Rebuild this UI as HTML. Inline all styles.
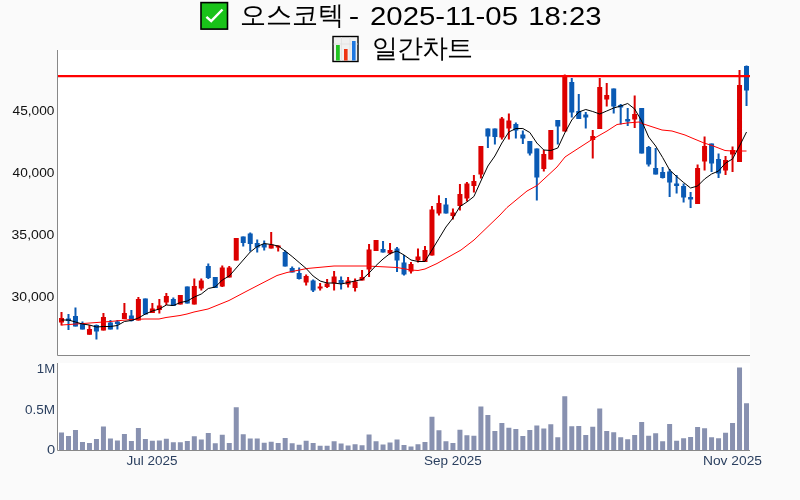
<!DOCTYPE html>
<html><head><meta charset="utf-8">
<style>
html,body{margin:0;padding:0;background:#fafafa;}
body{width:800px;height:500px;overflow:hidden;position:relative;font-family:"Liberation Sans",sans-serif;}
svg{position:absolute;left:0;top:0;will-change:transform;}
.t{position:absolute;white-space:nowrap;color:#000;will-change:transform;}
</style></head><body>
<svg width="800" height="500" viewBox="0 0 800 500" font-family="Liberation Sans, sans-serif">
<rect x="0" y="0" width="800" height="500" fill="#fafafa"/>
<rect x="57" y="50" width="693" height="305" fill="#fff"/>
<rect x="57" y="363" width="693" height="87" fill="#fff"/>
<g>
<path d="M61.5 312V325.5M89.46 325V334.8M103.44 313V330.5M124.41 303V319M138.39 297V320.5M152.37 303V313M159.36 299V313.5M166.35 293V305M180.33 295V304.5M194.31 278.5V304.5M201.3 278.5V290.5M222.27 265.5V287M229.26 266V277.5M236.25 238V260.5M271.2 232V248.5M278.19 245.5V251.5M306.15 274.5V285.5M320.13 283V290.5M327.12 279V288M334.11 271V290.5M348.09 277V287.5M355.08 278.5V291.5M362.07 270V280.5M369.06 244V277M376.05 240V251M390.03 243V254.5M411 262V273.5M417.99 248.5V262.5M424.98 246V262M431.97 206V255.5M438.96 195.2V215.5M452.94 208.5V219.5M459.93 184V210.5M466.92 182V201.5M473.91 175V192.5M480.9 146V178.5M501.87 117V139.5M508.86 113.5V139.5M543.81 150V171.5M550.8 130V159.5M564.78 74.5V131.5M592.74 130V158.5M599.73 78V129M606.72 83V106.5M634.68 95.5V128M697.59 164.5V204M704.58 136.5V170.5M725.55 156V175M732.54 146.5V172M739.53 70V162" stroke="#dc0000" stroke-width="2" fill="none"/>
<path d="M59 318h5v4.5h-5zM86.96 329h5v5.8h-5zM100.94 317h5v13.5h-5zM121.91 313h5v6h-5zM135.89 299h5v21.5h-5zM149.87 308.5h5v4.5h-5zM156.86 305.5h5v4.5h-5zM163.85 296h5v6.5h-5zM177.83 295h5v9.5h-5zM191.81 286h5v18.5h-5zM198.8 280.5h5v8h-5zM219.77 267.5h5v19h-5zM226.76 267.5h5v10h-5zM233.75 238h5v22.5h-5zM268.7 244.5h5v4h-5zM275.69 245.5h5v2h-5zM303.65 276h5v6.5h-5zM317.63 286.5h5v2h-5zM324.62 283.5h5v3.5h-5zM331.61 276.5h5v7h-5zM345.59 280.5h5v4h-5zM352.58 281.5h5v6.5h-5zM359.57 277h5v3.5h-5zM366.56 249.5h5v20h-5zM373.55 240h5v11h-5zM387.53 250h5v3.5h-5zM408.5 264h5v7.5h-5zM415.49 256.5h5v4h-5zM422.48 250h5v12h-5zM429.47 209.5h5v46h-5zM436.46 203h5v10.5h-5zM450.44 212.5h5v3.5h-5zM457.43 194h5v12h-5zM464.42 183.5h5v15h-5zM471.41 181h5v5h-5zM478.4 146h5v28.5h-5zM499.37 118.5h5v19h-5zM506.36 120.5h5v8h-5zM541.31 154h5v15h-5zM548.3 130h5v29.5h-5zM562.28 75h5v56.5h-5zM590.24 136h5v4h-5zM597.23 87h5v42h-5zM604.22 95h5v4.5h-5zM632.18 114h5v5.5h-5zM695.09 168h5v36h-5zM702.08 146h5v15.5h-5zM723.05 160h5v10.5h-5zM730.04 150h5v4.5h-5zM737.03 85h5v77h-5z" fill="#dc0000"/>
<path d="M68.49 314V330M75.48 307.5V326.5M82.47 321.5V329.5M96.45 324.5V339.5M110.43 320V329.5M117.42 320V329.5M131.4 310V321.5M145.38 298.5V314.5M173.34 297.5V306M187.32 286.5V303.5M208.29 263.5V279M215.28 277V288M243.24 236.5V246.5M250.23 232.5V251.5M257.22 239.5V252.5M264.21 240.5V250.5M285.18 250.5V266.5M292.17 266.5V272.5M299.16 267.5V279.5M313.14 279.5V292M341.1 276.5V289.5M383.04 241V252.5M397.02 247V272M404.01 255V275.5M445.95 198V213.5M487.89 128.5V148M494.88 128.5V144.5M515.85 122.5V138.5M522.84 130.5V144M529.83 141V155.5M536.82 148.5V200.5M557.79 120V144.5M571.77 78V117.5M578.76 94V119M585.75 112V128.5M613.71 88.5V113.5M620.7 104V124.5M627.69 108V126M641.67 108V153.5M648.66 146V166.5M655.65 148V174.5M662.64 167V178.5M669.63 169V197M676.62 175V193.5M683.61 183.5V202.5M690.6 192V208M711.57 143.5V172M718.56 153.5V178M746.52 65.5V106" stroke="#0a5ab4" stroke-width="2" fill="none"/>
<path d="M65.99 318.5h5v2.5h-5zM72.98 316h5v10.5h-5zM79.97 324h5v5.5h-5zM93.95 325h5v6.5h-5zM107.93 322.5h5v7h-5zM114.92 321.5h5v2.5h-5zM128.9 315.5h5v5.5h-5zM142.88 298.5h5v16h-5zM170.84 299h5v7h-5zM184.82 286.5h5v17h-5zM205.79 266h5v12h-5zM212.78 277h5v11h-5zM240.74 236.5h5v6.5h-5zM247.73 233.5h5v10.5h-5zM254.72 243h5v4.5h-5zM261.71 244h5v3.5h-5zM282.68 252h5v14.5h-5zM289.67 268h5v4.5h-5zM296.66 273h5v6h-5zM310.64 280.5h5v10h-5zM338.6 280h5v3.5h-5zM380.54 249h5v3.5h-5zM394.52 248.5h5v12h-5zM401.51 262.5h5v12h-5zM443.45 204.5h5v9h-5zM485.39 128.5h5v8h-5zM492.38 128.5h5v8.5h-5zM513.35 124h5v6.5h-5zM520.34 134.5h5v4h-5zM527.33 141h5v12.5h-5zM534.32 148.5h5v29h-5zM555.29 120h5v6.5h-5zM569.27 82h5v30.5h-5zM576.26 111h5v8h-5zM583.25 114.5h5v3h-5zM611.21 88.5h5v18h-5zM618.2 105h5v2.5h-5zM625.19 119h5v2.5h-5zM639.17 108h5v45.5h-5zM646.16 147h5v17.5h-5zM653.15 168h5v6.5h-5zM660.14 172h5v6h-5zM667.13 171.5h5v11h-5zM674.12 183.5h5v2.5h-5zM681.11 186h5v11.5h-5zM688.1 197h5v2.5h-5zM709.07 143.5h5v20h-5zM716.06 159h5v14.5h-5zM744.02 66h5v24.5h-5z" fill="#0a5ab4"/>
</g>
<path d="M61.5 325 L69 324.5 L90 323 L110 321.5 L131 319.5 L145 319 L159 319 L166 317.5 L180 315.5 L187 314 L194 312 L201 310.5 L208 309 L229 300.5 L247 291 L277 275.5 L287 272.5 L307 268.5 L334 266 L367 266 L397 267.5 L411 270 L418 270.5 L425 269 L437 263.5 L461 250 L474 240 L500 215 L507 207.5 L527 191 L537 185.5 L557 167 L565 157 L568 155 L592 139.5 L607 131 L617 124.5 L627 123 L639 122 L642 123.5 L662 130 L672 131 L685 135 L692 138 L704 143 L712 145.5 L725 150.5 L732 151 L746.5 151" stroke="#ff0000" stroke-width="1" fill="none"/>
<path d="M61.5 320 L68.49 320 L75.48 322 L82.47 324 L89.46 325 L96.45 327 L103.44 326.5 L110.43 326.5 L117.42 325.5 L124.41 321.5 L131.4 320.5 L138.39 318 L145.38 314 L152.37 311 L159.36 309 L166.35 305 L173.34 305.5 L180.33 302.5 L187.32 301 L194.31 297 L201.3 294 L208.29 288.5 L215.28 287 L222.27 280 L229.26 276 L236.25 268 L243.24 260 L250.23 252 L257.22 246.5 L264.21 243.5 L271.2 244.5 L278.19 246 L285.18 251 L292.17 256.5 L299.16 262.5 L306.15 268.5 L313.14 276 L320.13 281 L327.12 283 L334.11 283 L341.1 284 L348.09 282.5 L355.08 281 L362.07 279.5 L369.06 273 L376.05 265.5 L383.04 259 L390.03 253.5 L397.02 251 L404.01 255 L411 260 L417.99 261.5 L424.98 261.5 L431.97 250 L438.96 238.5 L445.95 227 L452.94 218 L459.93 206.5 L466.92 202 L473.91 196.5 L480.9 181 L487.89 166 L494.88 156 L501.87 143 L508.86 132 L515.85 128.5 L522.84 128.5 L529.83 132.5 L536.82 143 L543.81 150 L550.8 150.5 L557.79 148 L564.78 133 L571.77 120 L578.76 112 L585.75 109.5 L592.74 111.5 L599.73 114 L606.72 111 L613.71 108 L620.7 106 L627.69 103.5 L634.68 109 L641.67 121 L648.66 137 L655.65 146 L662.64 157.5 L669.63 170 L676.62 176.5 L683.61 182.5 L690.6 188 L697.59 186 L704.58 179 L711.57 174 L718.56 171 L725.55 163 L732.54 159 L739.53 146 L746.52 132" stroke="#000" stroke-width="1" fill="none"/>
<line x1="57" y1="76.2" x2="750" y2="76.2" stroke="#ff0000" stroke-width="2.2"/>
<path d="M59 432.5h5V450h-5zM65.99 436h5V450h-5zM72.98 430h5V450h-5zM79.97 442h5V450h-5zM86.96 443h5V450h-5zM93.95 439h5V450h-5zM100.94 426.5h5V450h-5zM107.93 438.5h5V450h-5zM114.92 440.5h5V450h-5zM121.91 434h5V450h-5zM128.9 441h5V450h-5zM135.89 428h5V450h-5zM142.88 439h5V450h-5zM149.87 440.8h5V450h-5zM156.86 440.5h5V450h-5zM163.85 438.7h5V450h-5zM170.84 442.2h5V450h-5zM177.83 442.2h5V450h-5zM184.82 441h5V450h-5zM191.81 436.2h5V450h-5zM198.8 439.5h5V450h-5zM205.79 433h5V450h-5zM212.78 443.2h5V450h-5zM219.77 434.8h5V450h-5zM226.76 443h5V450h-5zM233.75 407.3h5V450h-5zM240.74 434.2h5V450h-5zM247.73 438.5h5V450h-5zM254.72 438.5h5V450h-5zM261.71 442.8h5V450h-5zM268.7 441.8h5V450h-5zM275.69 443h5V450h-5zM282.68 438h5V450h-5zM289.67 443.2h5V450h-5zM296.66 444.8h5V450h-5zM303.65 440.7h5V450h-5zM310.64 443h5V450h-5zM317.63 445.7h5V450h-5zM324.62 445.8h5V450h-5zM331.61 441.3h5V450h-5zM338.6 443.5h5V450h-5zM345.59 445.5h5V450h-5zM352.58 444.2h5V450h-5zM359.57 445.2h5V450h-5zM366.56 434.5h5V450h-5zM373.55 441.2h5V450h-5zM380.54 444.5h5V450h-5zM387.53 442.5h5V450h-5zM394.52 439.5h5V450h-5zM401.51 445h5V450h-5zM408.5 446.5h5V450h-5zM415.49 444.2h5V450h-5zM422.48 442h5V450h-5zM429.47 416.8h5V450h-5zM436.46 430.3h5V450h-5zM443.45 441.3h5V450h-5zM450.44 443h5V450h-5zM457.43 429.7h5V450h-5zM464.42 435.2h5V450h-5zM471.41 435.8h5V450h-5zM478.4 406.5h5V450h-5zM485.39 415h5V450h-5zM492.38 431h5V450h-5zM499.37 423h5V450h-5zM506.36 427.7h5V450h-5zM513.35 429h5V450h-5zM520.34 436.1h5V450h-5zM527.33 430h5V450h-5zM534.32 425.5h5V450h-5zM541.31 428.5h5V450h-5zM548.3 424.2h5V450h-5zM555.29 437.2h5V450h-5zM562.28 396.2h5V450h-5zM569.27 426.2h5V450h-5zM576.26 426h5V450h-5zM583.25 435h5V450h-5zM590.24 426.8h5V450h-5zM597.23 408.5h5V450h-5zM604.22 431h5V450h-5zM611.21 432.2h5V450h-5zM618.2 437.2h5V450h-5zM625.19 439.2h5V450h-5zM632.18 435h5V450h-5zM639.17 422h5V450h-5zM646.16 435.8h5V450h-5zM653.15 433.2h5V450h-5zM660.14 441.2h5V450h-5zM667.13 424h5V450h-5zM674.12 440.8h5V450h-5zM681.11 438.2h5V450h-5zM688.1 437h5V450h-5zM695.09 427h5V450h-5zM702.08 428.3h5V450h-5zM709.07 437.2h5V450h-5zM716.06 438.2h5V450h-5zM723.05 432.8h5V450h-5zM730.04 423h5V450h-5zM737.03 367.5h5V450h-5zM744.02 403.2h5V450h-5z" fill="#8891b0"/>
<path d="M57.5 50V355.5H750" stroke="#888888" stroke-width="1" fill="none"/>
<path d="M57.5 363V450.5H750" stroke="#888888" stroke-width="1" fill="none"/>
<text x="12.59" y="115" font-size="12" fill="#111" textLength="41.81" lengthAdjust="spacingAndGlyphs">45,000</text>
<text x="12.59" y="177" font-size="12" fill="#111" textLength="41.81" lengthAdjust="spacingAndGlyphs">40,000</text>
<text x="11.58" y="239" font-size="12" fill="#111" textLength="42.83" lengthAdjust="spacingAndGlyphs">35,000</text>
<text x="11.58" y="301" font-size="12" fill="#111" textLength="42.83" lengthAdjust="spacingAndGlyphs">30,000</text>
<text x="36.86" y="373" font-size="12" fill="#2a3f5f" textLength="18.29" lengthAdjust="spacingAndGlyphs">1M</text>
<text x="24.96" y="413.5" font-size="12" fill="#2a3f5f" textLength="30.09" lengthAdjust="spacingAndGlyphs">0.5M</text>
<text x="46.92" y="453.5" font-size="12" fill="#2a3f5f" textLength="8.17" lengthAdjust="spacingAndGlyphs">0</text>
<text x="126.6" y="465" font-size="12" fill="#2a3f5f" textLength="51.02" lengthAdjust="spacingAndGlyphs">Jul 2025</text>
<text x="423.95" y="465" font-size="12" fill="#2a3f5f" textLength="57.82" lengthAdjust="spacingAndGlyphs">Sep 2025</text>
<text x="702.96" y="465" font-size="12" fill="#2a3f5f" textLength="59.07" lengthAdjust="spacingAndGlyphs">Nov 2025</text>
<text x="348.78" y="24.5" font-size="25.5" fill="#000" textLength="10.45" lengthAdjust="spacingAndGlyphs">-</text>
<text x="369.99" y="24.5" font-size="25.5" fill="#000" textLength="148.03" lengthAdjust="spacingAndGlyphs">2025-11-05</text>
<text x="528.29" y="24.5" font-size="25.5" fill="#000" textLength="73.13" lengthAdjust="spacingAndGlyphs">18:23</text>
<!-- title icons -->
<g>
<rect x="201" y="2.6" width="26.5" height="26.5" fill="#19c219" stroke="#000" stroke-width="1.6"/>
<path d="M206.4 16.9 L211.2 21.1 L222.5 9.5" stroke="#fff" stroke-width="2.5" fill="none"/>
</g>
<g>
<rect x="333" y="36.5" width="25" height="25" fill="#f0f0f0" stroke="#000" stroke-width="1.4"/>
<path d="M341.5 37V61M350 37V61M333.5 44H358" stroke="#dcdcdc" stroke-width="0.7"/>
<rect x="336" y="45" width="3.8" height="15.5" fill="#22c422"/>
<rect x="344" y="49" width="3.6" height="11.5" fill="#ee3311"/>
<rect x="352" y="41" width="3.6" height="19.5" fill="#1f77e0"/>
</g>
</svg>
<div class="t" style="left:240px;top:-1px;font-size:26px;line-height:32px;">오스코텍</div>
<div class="t" style="left:372px;top:32px;font-size:26px;line-height:32px;letter-spacing:-1px;">일간차트</div>
</body></html>
